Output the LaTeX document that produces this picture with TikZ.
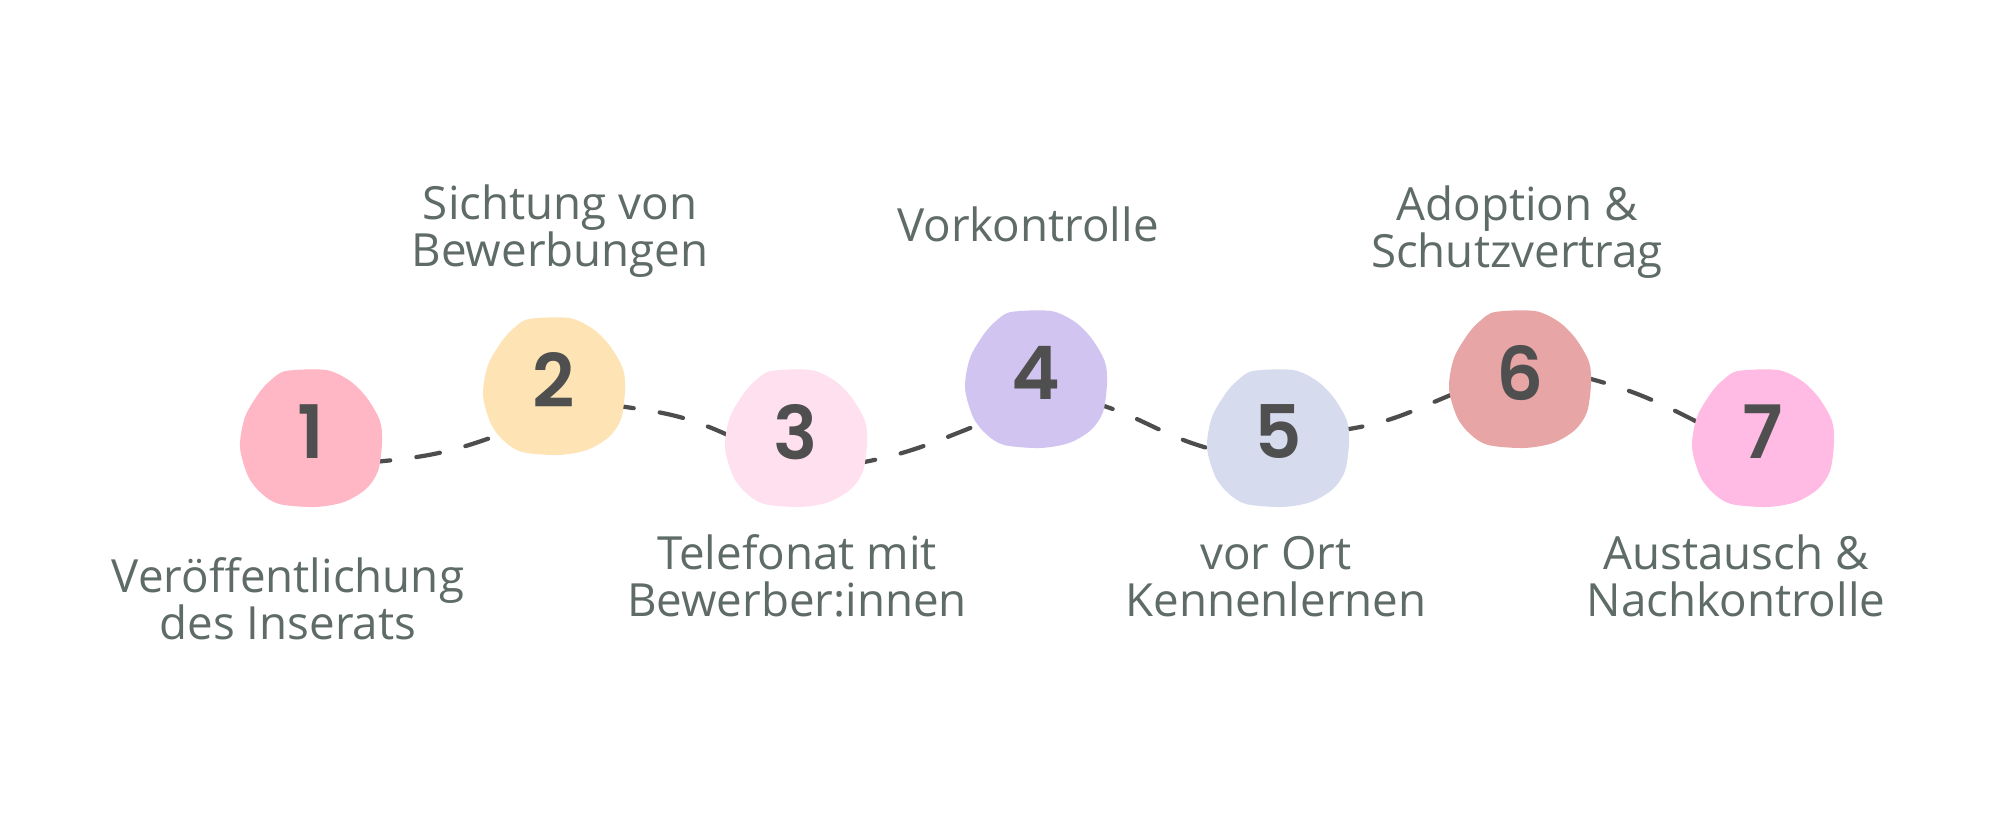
\documentclass[tikz,border=0pt]{standalone}
\usepackage{fontspec}
\setmainfont{Open Sans}
\newfontfamily\numfont{Poppins}[UprightFont=* SemiBold]
\usetikzlibrary{positioning}
\definecolor{labelgray}{HTML}{5E6B66}
\definecolor{linegray}{HTML}{4D4D4D}
\definecolor{numgray}{HTML}{4F4F4F}
\definecolor{blobone}{HTML}{FFB6C5}
\definecolor{blobtwo}{HTML}{FEE4B5}
\definecolor{blobthree}{HTML}{FFE0EE}
\definecolor{blobfour}{HTML}{D1C4F0}
\definecolor{blobfive}{HTML}{D7DBEE}
\definecolor{blobsix}{HTML}{E8A5A5}
\definecolor{blobseven}{HTML}{FFBBE3}
\pgfdeclarelayer{background}
\pgfsetlayers{background,main}
\tikzset{blobshape/.pic={\fill plot[smooth cycle] coordinates {(-0.25,0.66) (0.15,0.67) (0.39,0.56) (0.56,0.39) (0.69,0.16) (0.71,-0.06) (0.67,-0.34) (0.55,-0.52) (0.33,-0.65) (0.04,-0.70) (-0.32,-0.67) (-0.50,-0.56) (-0.63,-0.39) (-0.71,-0.10) (-0.66,0.20) (-0.52,0.44) (-0.40,0.57)};}}

\begin{document}
\begin{tikzpicture}[
		stepnum/.style={circle, minimum size=1.6cm, inner sep=0pt, text=numgray, font=\numfont\fontsize{21}{21}\selectfont},
		steplabel/.style={text=labelgray, align=center, anchor=base, font=\fontsize{13}{13.6}\selectfont},
		link/.style={linegray, line width=1.2pt, line cap=round, dash pattern=on 6.8pt off 7.5pt, shorten <=-2mm, shorten >=-2mm}]
		\useasboundingbox (0,0) rectangle (20,8.14);
		\node[stepnum] (b1) at (3.11, 3.82) {1};
		\node[stepnum] (b2) at (5.54, 4.34) {2};
		\node[stepnum] (b3) at (7.96, 3.82) {3};
		\node[stepnum] (b4) at (10.36, 4.41) {4};
		\node[stepnum] (b5) at (12.78, 3.82) {5};
		\node[stepnum] (b6) at (15.20, 4.41) {6};
		\node[stepnum] (b7) at (17.63, 3.82) {7};
		\node[steplabel] (l1) at (2.88, 1.74) {Veröffentlichung\\des Inserats};
		\node[steplabel] (l2) at (5.60, 5.47) {Sichtung von\\Bewerbungen};
		\node[steplabel] (l3) at (7.97, 1.97) {Telefonat mit\\Bewerber:innen};
		\node[steplabel] (l4) at (10.28, 5.72) {Vorkontrolle};
		\node[steplabel] (l5) at (12.76, 1.97) {vor Ort\\Kennenlernen};
		\node[steplabel] (l6) at (15.17, 5.46) {Adoption \&\\Schutzvertrag};
		\node[steplabel] (l7) at (17.36, 1.97) {Austausch \&\\Nachkontrolle};
		\begin{pgfonlayer}{background}
			\fill[white] (0,0) rectangle (20,8.14);
			\draw[link] (b1.-21) to[out=5, in=201] (b2.224);
			\draw[link] (b2.-20) to[out=-8, in=155] (b3.178);
			\draw[link] (b3.-21) to[out=10, in=201] (b4.221);
			\draw[link] (b4.-25) to[out=-16, in=166] (b5.190);
			\draw[link] (b5.3) to[out=8, in=202] (b6.198);
			\draw[link] (b6.-6) to[out=-15, in=153] (b7.168);
			\pic[blobone, yshift=-0.5mm] at (b1) {blobshape};
			\pic[blobtwo, yshift=-0.5mm] at (b2) {blobshape};
			\pic[blobthree, yshift=-0.5mm] at (b3) {blobshape};
			\pic[blobfour, yshift=-0.5mm] at (b4) {blobshape};
			\pic[blobfive, yshift=-0.5mm] at (b5) {blobshape};
			\pic[blobsix, yshift=-0.5mm] at (b6) {blobshape};
			\pic[blobseven, yshift=-0.5mm] at (b7) {blobshape};
		\end{pgfonlayer}
	\end{tikzpicture}
\end{document}
